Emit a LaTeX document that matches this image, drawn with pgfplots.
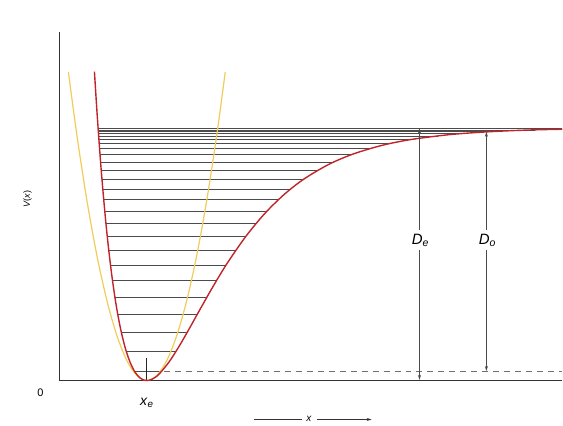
\documentclass[border=0pt]{standalone}
\usepackage{fontspec}
\setmainfont{Liberation Sans}
\usepackage{pgfplots}
\pgfplotsset{compat=1.18}
\usepackage{pgfplotstable}
\usetikzlibrary{arrows.meta}
\definecolor{morsered}{RGB}{192,36,42}
\definecolor{harmyel}{RGB}{240,204,90}
\definecolor{levgray}{RGB}{75,75,75}

\pgfplotstableread{
x y
94.56 309.3
97.47 263.5
101.36 210.4
106.21 155.8
111.07 112.1
115.92 77.8
120.78 51.5
125.64 31.8
130.49 17.7
135.35 8.2
140.20 2.6
144.09 0.45
147.00 0
149.91 0.42
154.77 2.76
159.62 6.8
169.34 18.7
179.05 33.8
188.76 50.6
198.47 68.0
213.04 93.7
227.60 117.6
247.03 145.5
266.45 168.7
285.87 187.5
305.29 202.4
329.57 216.6
353.85 226.9
383.00 235.6
412.10 241.4
451.00 246.3
489.80 249.1
528.70 250.8
563.00 251.6
}\morsetab

\pgfplotstableread{
x y
68.5 308.7
77 245.5
87 180.4
97 125.3
107 80.2
117 45.1
127 20.0
137 5.0
147 0
157 5.0
167 20.0
177 45.1
187 80.2
197 125.3
207 180.4
217 245.5
225.5 308.7
}\harmtab

\pgfplotstableread{
x y
126.5 29
176.1 29
nan nan
121.5 48
187.3 48
nan nan
117.9 66
197.4 66
nan nan
115.1 83
206.9 83
nan nan
112.7 100
216.8 100
nan nan
110.7 115
226.0 115
nan nan
108.9 130
235.8 130
nan nan
107.4 144
245.9 144
nan nan
106.1 157
256.1 157
nan nan
104.9 169
266.7 169
nan nan
103.8 181
278.7 181
nan nan
103.0 191
290.1 191
nan nan
102.1 201
303.3 201
nan nan
101.4 210
317.4 210
nan nan
100.8 218
332.6 218
nan nan
100.1 226
351.4 226
nan nan
99.7 232
369.6 232
nan nan
99.3 237.5
391.4 237.5
nan nan
99.0 241.5
412.6 241.5
nan nan
98.7 245
438.6 245
nan nan
98.6 247.5
465.2 247.5
nan nan
98.4 249.5
497.0 249.5
nan nan
98.3 251
536.0 251
nan nan
98.2 252.3
563.0 252.3
}\levtab

\begin{document}
\begin{tikzpicture}
\begin{axis}[
  x=1pt, y=1pt,
  xmin=60, xmax=563, ymin=0, ymax=349,
  axis lines=left,
  axis line style={-, draw=black!80, line width=0.9pt},
  xtick=\empty, ytick=\empty,
  clip=false,
  unbounded coords=jump,
]
% energy levels
\addplot[levgray, line width=0.65pt] table {\levtab};
% v=0 level
\addplot[levgray, line width=0.65pt] coordinates {(134.8,9) (161.7,9)};
\addplot[levgray!80, line width=0.8pt, dash pattern=on 6pt off 5pt] coordinates {(164,9) (563,9)};
% x_e tick
\addplot[black!85, line width=0.9pt] coordinates {(147,0) (147,23)};
% harmonic
\addplot[harmyel, line width=1.2pt, smooth] table {\harmtab};
% Morse
\addplot[morsered, line width=1.4pt, smooth] table {\morsetab};

% D_e arrow
\draw[levgray, line width=0.6pt, -{Stealth[length=5pt,width=3pt]}] (axis cs:420,151) -- (axis cs:420,252.5);
\draw[levgray, line width=0.6pt, -{Stealth[length=5pt,width=3pt]}] (axis cs:420,131) -- (axis cs:420,0.6);
\node[font=\fontsize{15}{17}\selectfont] at (axis cs:421,140) {\textit{D}\textsubscript{\textit{e}}};
% D_0 arrow
\draw[levgray, line width=0.6pt, -{Stealth[length=5pt,width=3pt]}] (axis cs:487,151) -- (axis cs:487,249);
\draw[levgray, line width=0.6pt, -{Stealth[length=5pt,width=3pt]}] (axis cs:487,131) -- (axis cs:487,9.5);
\node[font=\fontsize{15}{17}\selectfont] at (axis cs:488,140) {\textit{D}\textsubscript{\textit{o}}};

% labels
\node[rotate=90, font=\fontsize{9}{11}\selectfont] at (axis cs:27.5,181.5) {\textit{V}(\textit{x})};
\node[font=\fontsize{11}{13}\selectfont] at (axis cs:40.5,-12.5) {0};
\node[font=\fontsize{14}{16}\selectfont] at (axis cs:147,-22) {\textit{x}\textsubscript{\textit{e}}};
\draw[black!80, line width=0.6pt] (axis cs:254,-39) -- (axis cs:302,-39);
\node[font=\fontsize{10}{12}\selectfont] at (axis cs:309.5,-38.5) {\textit{x}};
\draw[black!80, line width=0.6pt, -{Stealth[length=5pt,width=3pt]}] (axis cs:317,-39) -- (axis cs:372,-39);

\coordinate (BL) at (axis cs:0,-45);
\coordinate (TR) at (axis cs:563,381);
\end{axis}
\useasboundingbox (BL) rectangle (TR);
\end{tikzpicture}
\end{document}
